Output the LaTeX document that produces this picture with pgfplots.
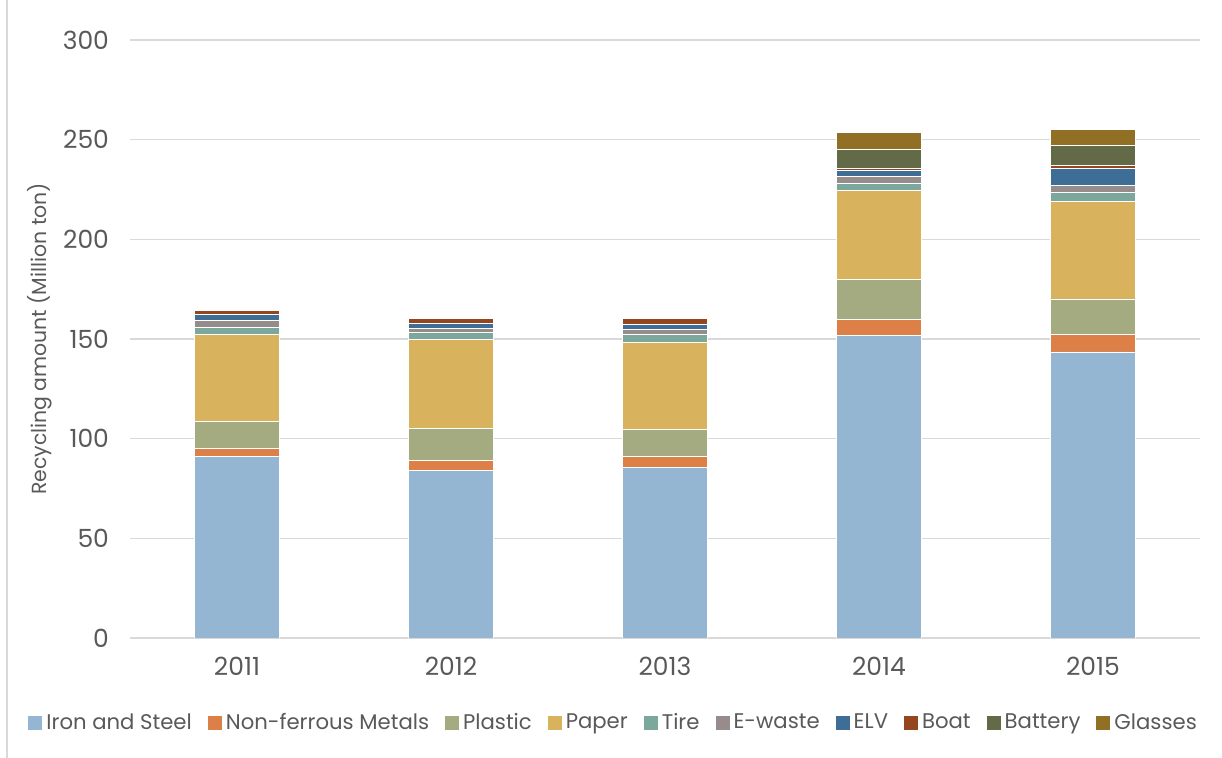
\documentclass[border=0pt]{standalone}
\usepackage{pgfplots}
\pgfplotsset{compat=1.18}
\usepackage{fontspec}
\setmainfont{Poppins}

\definecolor{txtgray}{RGB}{89,89,89}
\definecolor{gridgray}{RGB}{217,217,217}
\definecolor{cIron}{RGB}{148,182,210}
\definecolor{cNonf}{RGB}{221,128,71}
\definecolor{cPlastic}{RGB}{165,171,129}
\definecolor{cPaper}{RGB}{216,178,92}
\definecolor{cTire}{RGB}{123,167,157}
\definecolor{cEwaste}{RGB}{150,140,140}
\definecolor{cELV}{RGB}{62,110,150}
\definecolor{cBoat}{RGB}{148,70,30}
\definecolor{cBattery}{RGB}{98,106,71}
\definecolor{cGlasses}{RGB}{145,112,37}

% x = 0..4 stands for the years 2011..2015
\pgfplotstableread{
x  iron   nonf  plastic paper tire ewaste elv  boat battery glasses
0  91.0   4.3   13.5    43.5  3.4  3.6    2.9  2.1  0       0
1  84.0   5.0   16.0    44.6  3.9  1.8    2.4  2.5  0       0
2  85.5   5.5   13.7    43.7  3.7  2.6    2.7  2.7  0       0
3  152.0  8.0   20.0    44.3  4.0  3.1    3.2  1.0  9.6     8.5
4  143.5  8.7   17.9    48.7  4.8  3.5    8.6  1.3  9.9     8.3
}\recycling

\begin{document}
\begin{tikzpicture}
\useasboundingbox (0,0) rectangle (611pt,379pt);
\draw[gridgray, line width=0.8pt] (3.5pt,0) -- (3.5pt,379pt);
\begin{axis}[
  at={(65pt,60pt)}, anchor=south west,
  scale only axis,
  width=535pt, height=299pt,
  ybar stacked,
  bar width=0.4,
  xmin=-0.5, xmax=4.5,
  ymin=0, ymax=300,
  xtick=data,
  xticklabels={2011,2012,2013,2014,2015},
  ytick={0,50,100,150,200,250,300},
  ymajorgrids,
  grid style={gridgray, line width=0.8pt},
  axis line style={draw=none},
  major tick length=0pt,
  /pgf/number format/assume math mode=true,
  ticklabel style={font=\fontsize{12.5}{14}\selectfont, text=txtgray},
  yticklabel style={xshift=-7pt},
  xticklabel style={yshift=-6pt},
  ylabel={Recycling amount (Million ton)},
  ylabel style={font=\fontsize{10.2}{12}\selectfont, text=txtgray,
                at={(axis description cs:-0.084,0.5)}, anchor=center},
  every axis plot/.append style={draw=white, line width=0.4pt},
  legend columns=-1,
  legend style={at={(rel axis cs:0,0)}, xshift=-51pt, yshift=-42.5pt,
                anchor=west, draw=none, fill=none, inner sep=0pt,
                font=\fontsize{10.6}{13}\selectfont, text=txtgray,
                /tikz/every even column/.append style={column sep=6pt}},
  legend image code/.code={\fill[#1,draw=none] (0pt,-3.5pt) rectangle (7pt,3.5pt);},
]
\addplot[fill=cIron]    table[x=x,y=iron]    {\recycling};
\addplot[fill=cNonf]    table[x=x,y=nonf]    {\recycling};
\addplot[fill=cPlastic] table[x=x,y=plastic] {\recycling};
\addplot[fill=cPaper]   table[x=x,y=paper]   {\recycling};
\addplot[fill=cTire]    table[x=x,y=tire]    {\recycling};
\addplot[fill=cEwaste]  table[x=x,y=ewaste]  {\recycling};
\addplot[fill=cELV]     table[x=x,y=elv]     {\recycling};
\addplot[fill=cBoat]    table[x=x,y=boat]    {\recycling};
\addplot[fill=cBattery] table[x=x,y=battery] {\recycling};
\addplot[fill=cGlasses] table[x=x,y=glasses] {\recycling};
\legend{Iron and Steel,Non-ferrous Metals,Plastic,Paper,Tire,E-waste,ELV,Boat,Battery,Glasses}
\end{axis}
\end{tikzpicture}
\end{document}
